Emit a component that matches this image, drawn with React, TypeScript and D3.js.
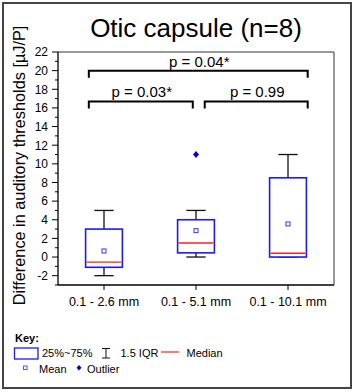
import React from "react";
import * as d3 from "d3";

const categories = ["0.1 - 2.6 mm", "0.1 - 5.1 mm", "0.1 - 10.1 mm"];
const whiskerLow = [-2, 0, 0];
const q1 = [-1.1, 0.45, 0];
const medians = [-0.55, 1.5, 0.4];
const q3 = [3, 4, 8.5];
const whiskerHigh = [5, 5, 11];
const means = [0.65, 2.83, 3.55];
const outlierCategories = ["0.1 - 5.1 mm"];
const outlierValues = [11];
const yTicks = [-2, 0, 2, 4, 6, 8, 10, 12, 14, 16, 18, 20, 22];
const bracketLabels = ["p = 0.04*", "p = 0.03*", "p = 0.99"];
const bracketLevels = [20, 16.7, 16.7];
const bracketStart = [-0.165, -0.165, 1.095];
const bracketEnd = [2.214, 0.965, 2.214];

const W = 356;
const H = 392;
const FONT = "'Liberation Sans', Arial, Helvetica, sans-serif";

export default function App() {
  const left = 58, right = 334, top = 52, bottom = 285;
  const y = d3.scaleLinear().domain([-3, 22]).range([bottom, top]);
  const x = d3.scaleBand<string>().domain(categories).range([left, right]);
  const cx = (c: string) => (x(c) as number) + x.bandwidth() / 2;
  const xi = d3.scaleLinear().domain([0, categories.length - 1]).range([cx(categories[0]), cx(categories[categories.length - 1])]);
  const boxW = x.bandwidth() * 0.4;
  const capW = x.bandwidth() * 0.21;
  const minorTicks = d3.range(-3, 23, 1).filter((v) => !yTicks.includes(v));
  const blue = "#1a1aff";

  return (
    <svg width={W} height={H} style={{ position: "absolute", left: 0, top: 0, background: "#fff" }} fontFamily={FONT}>
      <rect x={0} y={0} width={W} height={H} fill="#fff" />
      <rect x={3} y={3} width={348} height={385} fill="none" stroke="#444" strokeWidth={2} />
      <text x={(left + right) / 2} y={36.5} textAnchor="middle" fontSize={26} fill="#000">
        Otic capsule (n=8)
      </text>
      {/* plot frame */}
      <line x1={left} x2={right} y1={top} y2={top} stroke="#333" strokeWidth={1} />
      <line x1={right} x2={right} y1={top} y2={bottom} stroke="#333" strokeWidth={1} />
      <line x1={left} x2={left} y1={top} y2={bottom} stroke="#000" strokeWidth={1.3} />
      <line x1={left} x2={right} y1={bottom} y2={bottom} stroke="#000" strokeWidth={1.3} />
      {/* y ticks */}
      {yTicks.map((t) => (
        <g key={"yt" + t}>
          <line x1={left - 6} x2={left} y1={y(t)} y2={y(t)} stroke="#000" strokeWidth={1} />
          <text x={left - 10} y={y(t) + 4.3} textAnchor="end" fontSize={12} fill="#000">
            {t}
          </text>
        </g>
      ))}
      {minorTicks.map((t) => (
        <line key={"ym" + t} x1={left - 3} x2={left} y1={y(t)} y2={y(t)} stroke="#000" strokeWidth={1} />
      ))}
      {/* x ticks */}
      {categories.map((c) => (
        <g key={"xt" + c}>
          <line x1={cx(c)} x2={cx(c)} y1={bottom} y2={bottom + 5} stroke="#000" strokeWidth={1} />
          <text x={cx(c)} y={306} textAnchor="middle" fontSize={12.5} fill="#000">
            {c}
          </text>
        </g>
      ))}
      <text
        transform={`translate(25, ${(top + bottom) / 2 - 3}) rotate(-90)`}
        textAnchor="middle"
        fontSize={16.3}
        fill="#000"
      >
        Difference in auditory thresholds [µJ/P]
      </text>
      {/* boxes */}
      {categories.map((c, i) => {
        const m = cx(c);
        return (
          <g key={"box" + c}>
            <line x1={m} x2={m} y1={y(whiskerHigh[i])} y2={y(q3[i])} stroke="#111" strokeWidth={1.3} />
            <line x1={m} x2={m} y1={y(whiskerLow[i])} y2={y(q1[i])} stroke="#111" strokeWidth={1.3} />
            <line x1={m - capW / 2} x2={m + capW / 2} y1={y(whiskerHigh[i])} y2={y(whiskerHigh[i])} stroke="#111" strokeWidth={1.3} />
            <line x1={m - capW / 2} x2={m + capW / 2} y1={y(whiskerLow[i])} y2={y(whiskerLow[i])} stroke="#111" strokeWidth={1.3} />
            <rect
              x={m - boxW / 2}
              y={y(q3[i])}
              width={boxW}
              height={y(q1[i]) - y(q3[i])}
              fill="#fff"
              stroke={blue}
              strokeWidth={1.6}
            />
            <line x1={m - boxW / 2 + 1} x2={m + boxW / 2 - 1} y1={y(medians[i])} y2={y(medians[i])} stroke="#ff2020" strokeWidth={1.4} />
            <rect x={m - 2} y={y(means[i]) - 2} width={4} height={4} fill="#fff" stroke="#3333ff" strokeWidth={1} />
          </g>
        );
      })}
      {outlierCategories.map((c, i) => {
        const m = cx(c);
        const yy = y(outlierValues[i]);
        return (
          <path
            key={"out" + i}
            d={`M${m},${yy - 3.5} L${m + 3},${yy} L${m},${yy + 3.5} L${m - 3},${yy} Z`}
            fill="#0000e0"
          />
        );
      })}
      {/* brackets */}
      {bracketLabels.map((lab, i) => {
        const x1 = xi(bracketStart[i]);
        const x2 = xi(bracketEnd[i]);
        const yy = y(bracketLevels[i]);
        return (
          <g key={"br" + i}>
            <path d={`M${x1},${yy + 7} V${yy} H${x2} V${yy + 7}`} fill="none" stroke="#000" strokeWidth={2} />
            <text x={(x1 + x2) / 2 + 1} y={yy - 4} textAnchor="middle" fontSize={15} fill="#000">
              {lab}
            </text>
          </g>
        );
      })}
      {/* legend */}
      <text x={15} y={342} fontSize={11} fontWeight="bold" fill="#000">
        Key:
      </text>
      <rect x={14.5} y={348} width={23.5} height={11} fill="#fff" stroke={blue} strokeWidth={1.3} />
      <text x={42} y={357} fontSize={11} fill="#000">
        25%~75%
      </text>
      <g stroke="#111" strokeWidth={1}>
        <line x1={102} x2={110} y1={348.5} y2={348.5} />
        <line x1={106} x2={106} y1={348.5} y2={358} />
        <line x1={102} x2={110} y1={358} y2={358} />
      </g>
      <text x={120.5} y={357} fontSize={11} fill="#000">
        1.5 IQR
      </text>
      <line x1={161} x2={179} y1={352} y2={352} stroke="#ff3030" strokeWidth={1.3} />
      <text x={186.5} y={357} fontSize={11} fill="#000">
        Median
      </text>
      <rect x={23.5} y={366} width={3.5} height={3.5} fill="#fff" stroke="#5555ff" strokeWidth={1} />
      <text x={39} y={372.5} fontSize={11} fill="#000">
        Mean
      </text>
      <path d="M79,365 L81.5,367.8 L79,370.6 L76.5,367.8 Z" fill="#0000e0" />
      <text x={87} y={372.5} fontSize={11} fill="#000">
        Outlier
      </text>
    </svg>
  );
}
